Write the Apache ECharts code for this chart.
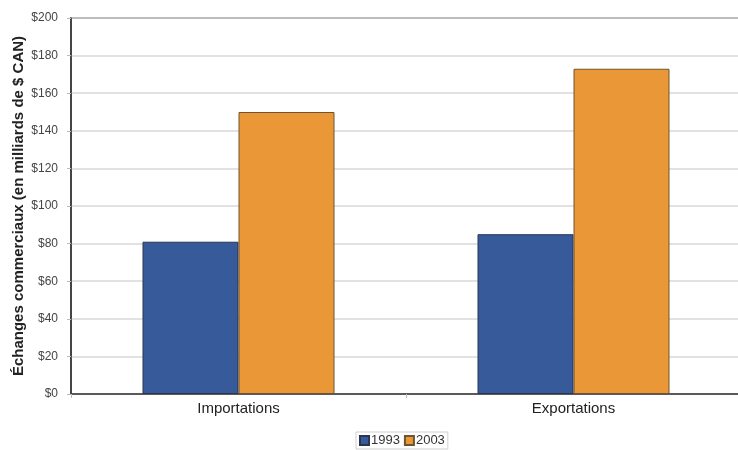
<!DOCTYPE html>
<html><head><meta charset="utf-8">
<script src="https://cdn.jsdelivr.net/npm/echarts@6/dist/echarts.min.js"></script>
<style>html,body{margin:0;padding:0;background:#fff}#c{width:738px;height:450px}</style>
</head><body><div id="c"></div>
<script>
const categories = ['Importations', 'Exportations'];
const seriesNames = ['1993', '2003'];
const values1993 = [81, 85];
const values2003 = [150, 173];
const yTicks = [0, 20, 40, 60, 80, 100, 120, 140, 160, 180, 200];

const chart = echarts.init(document.getElementById('c'), null, {renderer: 'canvas'});
chart.setOption({
  animation: false,
  backgroundColor: '#fff',
  textStyle: {fontFamily: 'Liberation Sans, Arial, sans-serif'},
  grid: {left: 71, width: 670, top: 18, height: 376, outerBoundsMode: 'none', containLabel: false,
         show: true, borderColor: '#3a3a3a', borderWidth: 1.5, backgroundColor: 'transparent'},
  legend: {
    data: seriesNames, bottom: 1, left: 356, itemWidth: 9, itemHeight: 9, itemGap: 4,
    borderColor: '#cfcfcf', borderWidth: 1, padding: [2, 3],
    textStyle: {fontSize: 13, color: '#333', padding: [0, 0, 0, -3]}, icon: 'rect'
  },
  xAxis: {
    type: 'category', data: categories,
    axisLine: {lineStyle: {color: '#3a3a3a', width: 1.5}},
    axisTick: {show: true, length: 4, lineStyle: {color: '#bbb'}},
    axisLabel: {fontSize: 15, color: '#222', margin: 7}
  },
  yAxis: {
    type: 'value', min: yTicks[0], max: yTicks[yTicks.length - 1], interval: 20,
    name: 'Échanges commerciaux (en milliards de $ CAN)', nameLocation: 'middle', nameGap: 45,
    nameMoveOverlap: false,
    nameTextStyle: {fontSize: 15, fontWeight: 'bold', color: '#222'},
    axisLine: {show: true, lineStyle: {color: '#3a3a3a', width: 1.5}},
    axisTick: {show: true, length: 4, lineStyle: {color: '#bbb'}},
    axisLabel: {fontSize: 12, color: '#444', margin: 13, formatter: v => '$' + v},
    splitLine: {lineStyle: {color: '#d9d9d9', width: 1.5}}
  },
  series: [
    {name: seriesNames[0], type: 'bar', data: values1993, barWidth: 96, barGap: '0%',
     itemStyle: {color: '#365a9a', borderColor: '#2a3550', borderWidth: 1}},
    {name: seriesNames[1], type: 'bar', data: values2003, barWidth: 96,
     itemStyle: {color: '#ea9738', borderColor: '#6e5530', borderWidth: 1}}
  ]
});
</script></body></html>
